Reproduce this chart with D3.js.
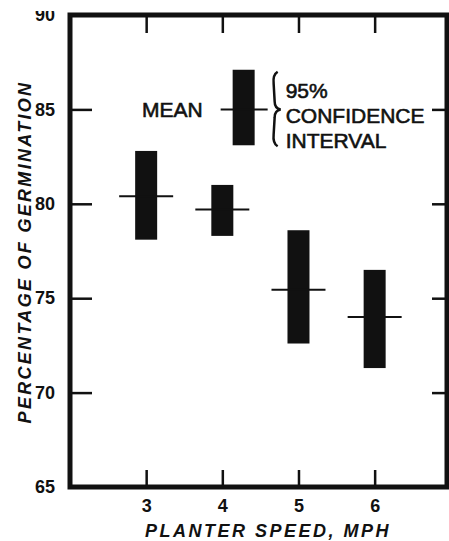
<!DOCTYPE html>
<html>
<head>
<meta charset="utf-8">
<script src="https://cdn.jsdelivr.net/npm/d3@7"></script>
<style>
  body { margin: 0; background: #fff; }
  text { font-family: "Liberation Sans", Arial, sans-serif; fill: #111; }
</style>
</head>
<body>
<div id="chart"></div>
<script>
// Planter speed (mph) vs germination, mean and 95% confidence interval
const speeds = [3, 4, 5, 6];
const means = [80.4, 79.7, 75.45, 74.0];
const lower = [78.1, 78.3, 72.6, 71.3];
const upper = [82.8, 81.0, 78.6, 76.5];
const yTicks = [65, 70, 75, 80, 85, 90];
const xTickLabels = ["3", "4", "5", "6"];
// legend sample, drawn on the same value scale
const legendMean = 85;
const legendLow = 83.1;
const legendHigh = 87.1;
const legendSpeed = 4.28;

const width = 449,
  height = 541;
const ink = "#111";

const x = d3.scaleLinear().domain([2, 6.95]).range([70, 447]);
const y = d3.scaleLinear().domain([65, 90]).range([487, 15]);

const svg = d3
  .select("#chart")
  .append("svg")
  .attr("width", width)
  .attr("height", height);

// the scan cuts the top of the "90" label
svg
  .append("defs")
  .append("clipPath")
  .attr("id", "scan")
  .append("rect")
  .attr("x", -200)
  .attr("y", 11)
  .attr("width", 1000)
  .attr("height", 1000);

const [x0, x1] = x.range();
const [yb, yt] = y.range();

// Inward ticks on all four sides
const inner = yTicks.filter((d) => d > 65 && d < 90);
svg.append("g")
  .attr("transform", `translate(${x0},0)`)
  .call(d3.axisRight(y).tickValues(inner).tickSize(22).tickFormat(""))
  .call((g) => g.select(".domain").remove());
svg.append("g")
  .attr("transform", `translate(${x1},0)`)
  .call(d3.axisLeft(y).tickValues(inner).tickSize(15).tickFormat(""))
  .call((g) => g.select(".domain").remove());
svg.append("g")
  .attr("transform", `translate(0,${yb})`)
  .call(d3.axisTop(x).tickValues(speeds).tickSize(17).tickFormat(""))
  .call((g) => g.select(".domain").remove());
svg.append("g")
  .attr("transform", `translate(0,${yt})`)
  .call(d3.axisBottom(x).tickValues(speeds).tickSize(18).tickFormat(""))
  .call((g) => g.select(".domain").remove());
svg.selectAll(".tick line").attr("stroke", ink).attr("stroke-width", 2.5);

// Tick labels
const yLab = svg.append("g")
  .attr("transform", `translate(${x0},0)`)
  .attr("clip-path", "url(#scan)")
  .call(d3.axisLeft(y).tickValues(yTicks).tickSize(0).tickPadding(15))
  .call((g) => g.select(".domain").remove());
yLab.selectAll("text")
  .style("font-size", "18px")
  .style("font-weight", "bold")
  .attr("fill", ink);

const xLab = svg.append("g")
  .attr("transform", `translate(0,${yb})`)
  .call(
    d3.axisBottom(x).tickValues(speeds).tickSize(0).tickPadding(12)
      .tickFormat((d, i) => xTickLabels[i])
  )
  .call((g) => g.select(".domain").remove());
xLab.selectAll("text")
  .style("font-size", "18px")
  .style("font-weight", "bold")
  .attr("fill", ink);

// Frame
svg.append("rect")
  .attr("x", x0)
  .attr("y", yt)
  .attr("width", x1 - x0)
  .attr("height", yb - yt)
  .attr("fill", "none")
  .attr("stroke", ink)
  .attr("stroke-width", 5);

// Confidence bars and mean marks
const data = speeds.map((s, i) => ({ s, mean: means[i], lo: lower[i], hi: upper[i] }));

svg.selectAll(".ci")
  .data(data)
  .join("rect")
  .attr("class", "ci")
  .attr("x", (d) => x(d.s) - 11)
  .attr("width", 22)
  .attr("y", (d) => y(d.hi))
  .attr("height", (d) => y(d.lo) - y(d.hi))
  .attr("fill", ink);

svg.selectAll(".mean")
  .data(data)
  .join("line")
  .attr("class", "mean")
  .attr("x1", (d) => x(d.s) - 27)
  .attr("x2", (d) => x(d.s) + 27)
  .attr("y1", (d) => y(d.mean))
  .attr("y2", (d) => y(d.mean))
  .attr("stroke", ink)
  .attr("stroke-width", 2);

// Legend
const lx = x(legendSpeed);
svg.append("rect")
  .attr("x", lx - 11)
  .attr("width", 22)
  .attr("y", y(legendHigh))
  .attr("height", y(legendLow) - y(legendHigh))
  .attr("fill", ink);
svg.append("line")
  .attr("x1", lx - 23)
  .attr("x2", lx + 24)
  .attr("y1", y(legendMean))
  .attr("y2", y(legendMean))
  .attr("stroke", ink)
  .attr("stroke-width", 2);

svg.append("text")
  .attr("x", lx - 41)
  .attr("y", y(legendMean))
  .attr("dy", "0.36em")
  .attr("text-anchor", "end")
  .style("font-size", "21px")
  .attr("stroke", ink)
  .attr("stroke-width", 0.6)
  .text("MEAN");

const bt = y(legendHigh) + 2,
  bm = y(legendMean),
  bb = y(legendLow) + 1,
  bx = lx + 31;
svg.append("path")
  .attr(
    "d",
    `M${bx + 3},${bt} Q${bx - 2},${bt + 3} ${bx - 1},${bt + 12}` +
      ` L${bx},${bm - 8} Q${bx},${bm - 1} ${bx + 6},${bm}` +
      ` Q${bx},${bm + 1} ${bx},${bm + 8}` +
      ` L${bx - 1},${bb - 12} Q${bx - 2},${bb - 3} ${bx + 3},${bb}`
  )
  .attr("fill", "none")
  .attr("stroke", ink)
  .attr("stroke-width", 2.5);

const legendLines = ["95%", "CONFIDENCE", "INTERVAL"];
svg.selectAll(".leg")
  .data(legendLines)
  .join("text")
  .attr("class", "leg")
  .attr("x", lx + 42)
  .attr("y", (d, i) => bm - 19 + i * 25)
  .attr("dy", "0.36em")
  .style("font-size", "21px")
  .attr("stroke", ink)
  .attr("stroke-width", 0.6)
  .text((d) => d);

// Axis titles
svg.append("text")
  .attr("x", 268)
  .attr("y", 537)
  .attr("text-anchor", "middle")
  .style("font-size", "18px")
  .style("font-weight", "bold")
  .style("font-style", "italic")
  .style("letter-spacing", "2.5px")
  .text("PLANTER SPEED, MPH");

svg.append("text")
  .attr("transform", "translate(31,252) rotate(-90)")
  .attr("text-anchor", "middle")
  .style("font-size", "18px")
  .style("font-weight", "bold")
  .style("font-style", "italic")
  .style("letter-spacing", "2.3px")
  .text("PERCENTAGE OF GERMINATION");
</script>
</body>
</html>
